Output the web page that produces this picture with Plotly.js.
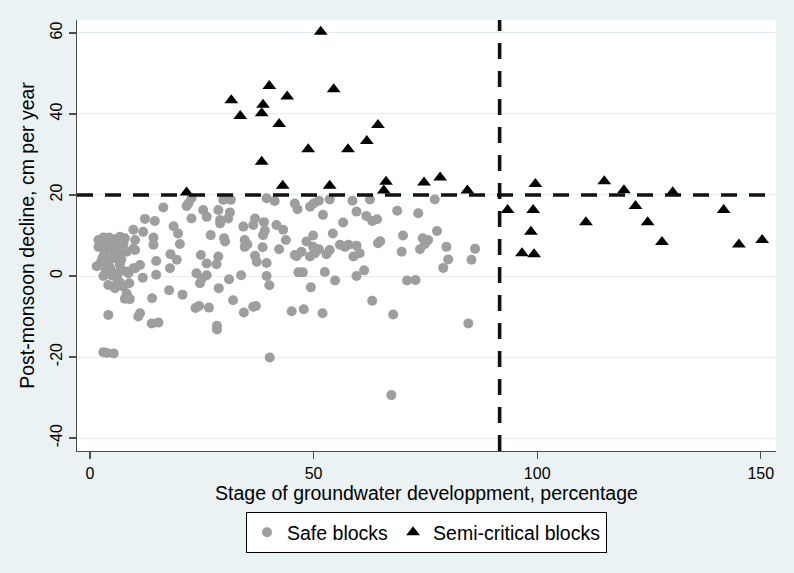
<!DOCTYPE html>
<html>
<head>
<meta charset="utf-8">
<script src="https://cdn.plot.ly/plotly-3.0.1.min.js"></script>
<style>
  html, body { margin: 0; padding: 0; background: #eaf2f3; }
  #chart { width: 794px; height: 573px; }
</style>
</head>
<body>
<div id="chart"></div>
<script>
// Safe blocks: stage of groundwater development (%) vs post-monsoon decline (cm/yr)
const safeX = [
  1.5, 1.9, 2.6, 3.0, 4.3, 5.5, 6.7, 7.8, 1.9, 3.2, 4.1, 6.0, 8.2, 9.7, 2.8, 3.4, 5.6, 4.1, 6.7, 3.5,
  4.8, 6.3, 8.6, 4.8, 6.7, 5.6, 4.1, 7.4, 8.8, 5.6, 8.2, 7.8, 8.9, 8.2, 9.7, 11.2, 5.0, 3.8, 5.5, 7.0,
  4.5, 3.0, 6.0, 7.5, 6.5, 2.5, 4.1, 3.0, 3.8, 5.3, 10.1, 11.9, 9.7, 10.1, 10.8, 11.2, 10.1, 11.8,
  12.3, 14.5, 16.4, 18.7, 19.7, 20.1, 14.2, 14.2, 14.8, 18.0, 19.4, 17.9, 14.8, 17.7, 20.7, 13.9, 13.8, 15.3,
  21.6, 22.0, 22.7, 22.7,
  25.3, 26.1, 28.7, 29.8, 31.5, 31.3, 29.1, 30.9, 29.1, 34.3, 36.9, 36.5, 38.9, 39.1, 38.7, 41.7, 43.2, 39.5,
  41.3, 45.8, 46.4, 27.0, 30.0, 30.2, 34.6, 35.2, 38.6, 42.3, 45.8, 24.8, 26.1, 28.7, 28.3, 36.9, 37.3, 39.5,
  34.6, 23.8, 25.0, 26.1, 24.6, 31.1, 33.8, 28.8, 39.5, 40.1, 23.6, 24.4, 26.6, 32.0, 34.4, 36.5, 37.1, 28.4,
  28.4, 40.2, 45.1, 47.8, 43.8,
  46.2, 47.3, 48.4, 49.9, 49.2, 50.3, 51.2, 52.9, 53.6, 54.3, 55.9, 57.0, 57.8, 58.9, 60.3, 59.6, 49.9, 49.2,
  50.0, 51.2, 53.6, 52.1, 56.6, 58.7, 59.6, 62.6, 61.8, 63.1, 64.2, 64.4, 64.9, 68.7, 46.6, 47.6, 52.5, 54.8,
  49.4, 59.6, 61.3, 63.1, 52.0, 67.8, 67.4, 69.7,
  73.4, 77.1, 70.0, 74.4, 75.6, 77.6, 79.7, 80.1, 79.0, 86.1, 85.3, 73.8, 74.9, 70.9, 72.8, 84.6
];
const safeY = [
  2.4, 8.9, 7.6, 9.5, 9.5, 9.1, 9.7, 9.3, 7.2, 6.0, 6.8, 7.2, 6.0, 6.8, 4.5, 4.8, 4.4, 3.1, 2.7, 1.5,
  1.1, 0.7, 0.7, 0.2, -1.6, -2.4, -2.2, -2.6, -1.8, -3.0, -4.3, -5.6, -5.7, 1.1, 1.9, 2.7, 8.2, 8.0, 5.5, 4.0,
  2.0, 0.0, -0.5, 8.0, 5.8, 3.5, -9.6, -18.8, -19.0, -19.1, 8.9, 10.9, 11.4, 6.4, -10.0, -9.2, 1.9, -0.4,
  14.1, 13.6, 16.9, 12.3, 10.5, 7.9, 9.5, 7.7, 3.7, 5.4, 4.0, 1.9, 0.3, -3.5, -4.6, -5.5, -11.7, -11.5,
  17.3, 17.9, 19.2, 14.2,
  16.3, 14.6, 16.3, 18.8, 18.8, 15.7, 13.8, 14.2, 13.0, 12.2, 14.2, 12.6, 13.3, 11.2, 10.1, 12.6, 11.4, 19.2,
  18.5, 17.9, 16.5, 10.1, 9.3, 8.5, 8.9, 7.8, 7.1, 6.6, 5.2, 5.2, 3.1, 4.8, 2.9, 5.0, 3.5, 3.2,
  7.2, 0.7, -0.6, 0.2, -1.8, -0.8, 0.2, -3.0, 0.0, -2.3, -7.9, -7.4, -7.8, -6.0, -9.0, -7.6, -7.4, -12.3,
  -13.2, -20.1, -8.7, -8.2, 8.9,
  4.9, 6.0, 8.5, 7.2, 4.8, 5.6, 6.6, 5.4, 6.4, 10.5, 7.7, 7.2, 7.7, 4.8, 5.6, 7.5, 10.0, 17.1,
  17.9, 18.6, 18.9, 15.1, 13.2, 18.6, 15.9, 18.9, 14.8, 13.6, 14.0, 8.1, 8.6, 16.1, 0.9, 0.9, 1.0, -1.1,
  -2.8, 0.0, 1.4, -6.1, -9.2, -9.5, -29.4, 6.0,
  15.5, 18.9, 10.0, 9.3, 8.9, 11.1, 7.2, 4.1, 2.0, 6.7, 4.0, 6.6, 7.9, -1.1, -1.0, -11.7
];

// Semi-critical blocks
const semiX = [
  51.6, 40.1, 54.5, 31.6, 44.1, 38.7, 38.4, 33.6, 42.3, 64.4, 61.9, 48.8, 57.7, 38.4, 43.1, 53.6, 66.2, 65.7,
  21.6, 74.7, 78.3, 84.4, 99.6, 115.0, 119.4, 130.3, 93.4, 99.1, 122.0, 141.7, 110.9, 124.7, 98.6, 127.9,
  150.3, 145.1, 96.6, 99.3
];
const semiY = [
  60.3, 46.9, 46.1, 43.4, 44.3, 42.3, 40.2, 39.5, 37.5, 37.3, 33.3, 31.3, 31.3, 28.2, 22.3, 22.3, 23.3, 21.1,
  20.6, 23.1, 24.3, 21.1, 22.7, 23.4, 21.2, 20.7, 16.3, 16.3, 17.3, 16.3, 13.3, 13.3, 10.9, 8.4,
  8.9, 7.8, 5.6, 5.4
];

// Reference thresholds
const devThreshold = [91.6];
const declineThreshold = [20];

// Axis ticks
const xTicks = [0, 50, 100, 150];
const yTicks = [-40, -20, 0, 20, 40, 60];

const FONT = 'Liberation Sans, Arial, Helvetica, sans-serif';
const AXIS_GREY = '#4d4d4d';
const dashStyle = { color: '#111111', width: 3.6, dash: '16px,12px' };

const traces = [
  {
    type: 'scatter', mode: 'markers', name: 'Safe blocks',
    x: safeX, y: safeY,
    marker: { symbol: 'circle', size: 10, color: '#9e9e9e', line: { width: 0 } }
  },
  {
    type: 'scatter', mode: 'markers', name: 'Semi-critical blocks',
    x: semiX, y: semiY,
    marker: { symbol: 'triangle-up', size: 12, color: '#000000', line: { width: 0 } }
  }
];

const shapes = [];
devThreshold.forEach(v => shapes.push({
  type: 'line', xref: 'x', yref: 'paper', x0: v, x1: v, y0: 0, y1: 1,
  line: dashStyle, layer: 'above'
}));
declineThreshold.forEach(v => shapes.push({
  type: 'line', xref: 'paper', yref: 'y', x0: 0, x1: 1, y0: v, y1: v,
  line: dashStyle, layer: 'above'
}));

const layout = {
  width: 794, height: 573,
  paper_bgcolor: '#eaf2f3',
  plot_bgcolor: '#ffffff',
  margin: { l: 77, r: 18, t: 20, b: 122 },
  font: { family: FONT, color: '#000000' },
  showlegend: true,
  xaxis: {
    range: [-2.9, 153.4],
    tickmode: 'array', tickvals: xTicks, ticktext: xTicks.map(String),
    ticks: 'outside', ticklen: 7, tickwidth: 1.3, tickcolor: AXIS_GREY,
    showline: true, linecolor: AXIS_GREY, linewidth: 1.3,
    showgrid: false, zeroline: false,
    tickfont: { size: 16, family: FONT, color: '#000' },
    title: { text: 'Stage of groundwater developpment, percentage', font: { size: 19.5, family: FONT, color: '#000' }, standoff: 2 }
  },
  yaxis: {
    range: [-43.2, 63.2],
    tickmode: 'array', tickvals: yTicks, ticktext: yTicks.map(String),
    tickangle: -90,
    ticks: 'outside', ticklen: 7, tickwidth: 1.3, tickcolor: AXIS_GREY,
    showline: true, linecolor: AXIS_GREY, linewidth: 1.3,
    showgrid: true, gridcolor: '#e4eef0', gridwidth: 1,
    zeroline: false,
    tickfont: { size: 16, family: FONT, color: '#000' },
    title: { text: 'Post-monsoon decline, cm per year', font: { size: 19.5, family: FONT, color: '#000' }, standoff: 8 }
  },
  legend: {
    orientation: 'h', x: 0.5, xanchor: 'center', y: -0.1415, yanchor: 'top',
    bgcolor: '#ffffff', bordercolor: '#000000', borderwidth: 1,
    font: { size: 19.5, family: FONT, color: '#000' }
  },
  shapes: shapes
};

Plotly.newPlot('chart', traces, layout, { displayModeBar: false, staticPlot: true });
</script>
</body>
</html>
